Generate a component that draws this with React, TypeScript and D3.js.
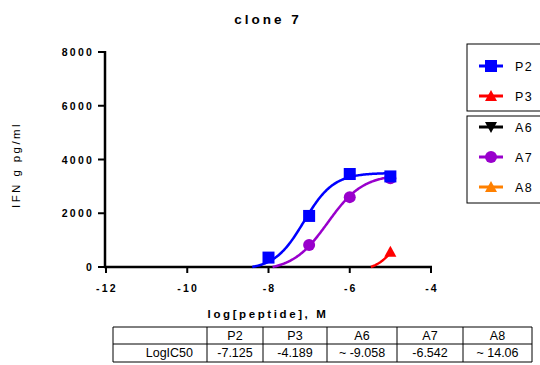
import React from "react";
import * as d3 from "d3";

// Measured points (log concentration, IFN g pg/ml)
const doseLog = [-8, -7, -6, -5];
const p2Values = [350, 1900, 3460, 3370];
const a7Values = [null, 820, 2600, 3300];
const p3Values = [null, null, null, 570];

// Four-parameter logistic fits: [bottom, top, logIC50, hill]
const p2Fit = [-100, 3500, -7.125, 1.2];
const a7Fit = [-150, 3450, -6.542, 1.0];
const p3Fit = [-200, 8000, -4.189, 1.24];

const xTicks = [-12, -10, -8, -6, -4];
const yTicks = [0, 2000, 4000, 6000, 8000];

const legendTop = ["P2", "P3"];
const legendBottom = ["A6", "A7", "A8"];
const seriesColors: Record<string, string> = {
  P2: "#0000ff",
  P3: "#ff0000",
  A6: "#000000",
  A7: "#9900cc",
  A8: "#ff8000",
};

const tableHeaders = ["", "P2", "P3", "A6", "A7", "A8"];
const tableRow = ["LogIC50", "-7.125", "-4.189", "~ -9.058", "-6.542", "~ 14.06"];

const W = 540;
const H = 365;

function logistic(fit: number[], x: number) {
  const [b, t, ic, h] = fit;
  return b + (t - b) / (1 + Math.pow(10, (ic - x) * h));
}

function Marker({ kind, x, y, color }: { kind: string; x: number; y: number; color: string }) {
  if (kind === "P2") return <rect x={x - 6} y={y - 6} width={12} height={12} fill={color} />;
  if (kind === "A7") return <circle cx={x} cy={y} r={6} fill={color} />;
  if (kind === "A6")
    return <path d={`M${x - 6},${y - 5}L${x + 6},${y - 5}L${x},${y + 6}Z`} fill={color} />;
  return <path d={`M${x - 6},${y + 5}L${x + 6},${y + 5}L${x},${y - 6}Z`} fill={color} />;
}

export default function App() {
  const x = d3.scaleLinear().domain([-12, -4]).range([106, 431]);
  const y = d3.scaleLinear().domain([0, 8000]).range([267, 52]);

  const curve = (fit: number[], x0: number, x1: number) => {
    const pts: [number, number][] = [];
    for (const v of d3.range(x0, x1 + 1e-9, 0.02)) {
      const val = logistic(fit, v);
      if (val >= 0) pts.push([x(v), y(val)]);
    }
    return d3.line()(pts) || "";
  };

  const tableCols = [113, 207, 263, 327, 397, 463, 532];
  const tableRows = [327, 344, 362];

  const font = "'Liberation Sans', Arial, sans-serif";

  return (
    <svg width={W} height={H} style={{ position: "absolute", left: 0, top: 0 }} fontFamily={font}>
      <rect width={W} height={H} fill="#fff" />
      <text x={268} y={24} textAnchor="middle" fontSize={13.5} fontWeight="bold" letterSpacing={3}>
        clone 7
      </text>

      {/* y axis */}
      <line x1={105} x2={105} y1={y(8000) - 1} y2={y(0) + 1} stroke="#000" strokeWidth={2.5} />
      {yTicks.map((t) => (
        <g key={t}>
          <line x1={98} x2={105} y1={y(t)} y2={y(t)} stroke="#000" strokeWidth={2} />
          <text x={94} y={y(t) + 4} textAnchor="end" fontSize={10.5} fontWeight="bold" letterSpacing={2.2}>
            {t}
          </text>
        </g>
      ))}
      <text
        transform={`translate(20,165) rotate(-90)`}
        textAnchor="middle"
        fontSize={11.5}
        letterSpacing={2.4}
      >
        IFN g pg/ml
      </text>

      {/* x axis */}
      <line x1={104} x2={x(-4) + 1} y1={267} y2={267} stroke="#000" strokeWidth={2.5} />
      {xTicks.map((t) => (
        <g key={t}>
          <line x1={x(t)} x2={x(t)} y1={267} y2={273} stroke="#000" strokeWidth={2} />
          <text x={x(t) + 1} y={292} textAnchor="middle" fontSize={10.5} fontWeight="bold" letterSpacing={2.2}>
            {t}
          </text>
        </g>
      ))}
      <text x={268} y={318} textAnchor="middle" fontSize={11.5} fontWeight="bold" letterSpacing={2.6}>
        log[peptide], M
      </text>

      {/* fitted curves */}
      <path d={curve(a7Fit, -8.5, -5)} fill="none" stroke={seriesColors.A7} strokeWidth={2.5} />
      <path d={curve(p2Fit, -8.8, -5)} fill="none" stroke={seriesColors.P2} strokeWidth={2.5} />
      <path d={curve(p3Fit, -6, -5)} fill="none" stroke={seriesColors.P3} strokeWidth={2.5} />

      {/* points */}
      {a7Values.map((v, i) =>
        v == null ? null : (
          <Marker key={"a7" + i} kind="A7" x={x(doseLog[i])} y={y(v)} color={seriesColors.A7} />
        )
      )}
      {p2Values.map((v, i) => (
        <Marker key={"p2" + i} kind="P2" x={x(doseLog[i])} y={y(v)} color={seriesColors.P2} />
      ))}
      {p3Values.map((v, i) =>
        v == null ? null : (
          <Marker key={"p3" + i} kind="P3" x={x(doseLog[i])} y={y(v)} color={seriesColors.P3} />
        )
      )}

      {/* legend */}
      <rect x={467} y={44} width={80} height={67} fill="none" stroke="#000" strokeWidth={1} />
      <rect x={467} y={116} width={80} height={87} fill="none" stroke="#000" strokeWidth={1} />
      {[...legendTop.map((k, i) => [k, 66 + i * 30] as [string, number]),
        ...legendBottom.map((k, i) => [k, 127 + i * 30] as [string, number])].map(([k, ly]) => (
        <g key={k}>
          <line x1={479} x2={503} y1={ly} y2={ly} stroke={seriesColors[k]} strokeWidth={3} />
          <Marker kind={k} x={491} y={ly} color={seriesColors[k]} />
          <text x={515} y={ly + 4.5} fontSize={12.5} letterSpacing={1.4}>
            {k}
          </text>
        </g>
      ))}

      {/* results table */}
      <g stroke="#000" strokeWidth={1}>
        {tableRows.map((ry) => (
          <line key={ry} x1={tableCols[0]} x2={tableCols[tableCols.length - 1]} y1={ry} y2={ry} />
        ))}
        {tableCols.map((cx) => (
          <line key={cx} x1={cx} x2={cx} y1={tableRows[0]} y2={tableRows[2]} />
        ))}
      </g>
      {tableHeaders.map((h, i) => (
        <text
          key={"h" + i}
          x={(tableCols[i] + tableCols[i + 1]) / 2}
          y={340}
          textAnchor="middle"
          fontSize={12.5}
        >
          {h}
        </text>
      ))}
      {tableRow.map((c, i) => (
        <text
          key={"r" + i}
          x={i === 0 ? 193 : (tableCols[i] + tableCols[i + 1]) / 2}
          y={357}
          textAnchor={i === 0 ? "end" : "middle"}
          fontSize={12.5}
        >
          {c}
        </text>
      ))}
    </svg>
  );
}
